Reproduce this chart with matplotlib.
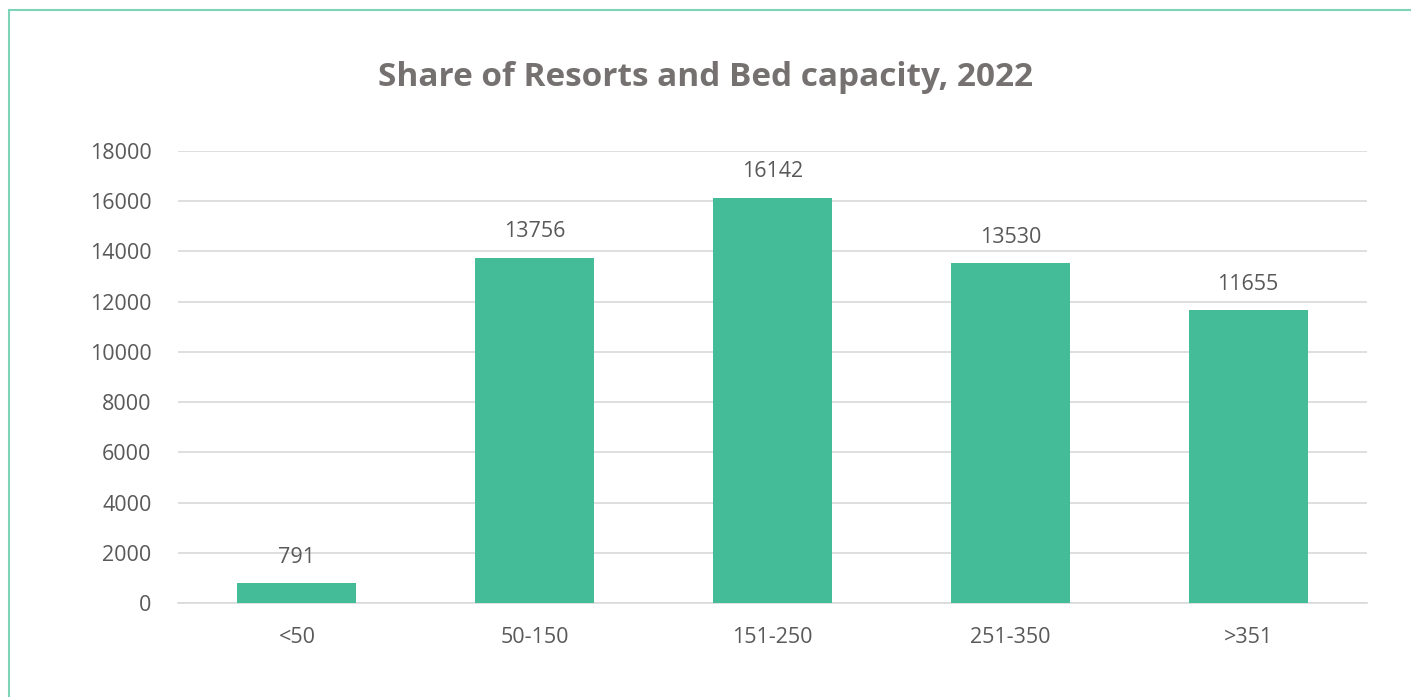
import matplotlib
matplotlib.use("Agg")
import matplotlib.pyplot as plt
from matplotlib.lines import Line2D

categories = ["<50", "50-150", "151-250", "251-350", ">351"]
values = [791, 13756, 16142, 13530, 11655]
yticks = [0, 2000, 4000, 6000, 8000, 10000, 12000, 14000, 16000, 18000]
title = "Share of Resorts and Bed capacity, 2022"

W, H = 1411, 697
fig = plt.figure(figsize=(W / 100, H / 100), dpi=100)
fig.patch.set_facecolor("white")

left, right = 178 / W, 1367 / W
bottom, top = 1 - 603 / H, 1 - 151 / H
ax = fig.add_axes([left, bottom, right - left, top - bottom])

bar_color = "#45BC98"
text_color = "#595959"
fs = 15.5

x = list(range(len(categories)))
ax.bar(x, values, width=0.5, color=bar_color, zorder=3)
ax.set_xlim(-0.5, len(categories) - 0.5)
ax.set_ylim(0, 18000)
ax.set_yticks(yticks)
ax.set_yticklabels([str(t) for t in yticks])
ax.set_xticks(x)
ax.set_xticklabels(categories)

font = "Open Sans"
for lab in ax.get_xticklabels() + ax.get_yticklabels():
    lab.set_fontfamily(font)
    lab.set_fontsize(fs)
    lab.set_color(text_color)
ax.tick_params(axis="both", length=0)
ax.tick_params(axis="y", pad=19)
ax.tick_params(axis="x", pad=17)

ax.grid(axis="y", color="#D9D9D9", linewidth=1.2, zorder=0)
for s in ["top", "right", "left"]:
    ax.spines[s].set_visible(False)
ax.spines["bottom"].set_color("#D9D9D9")
ax.spines["bottom"].set_linewidth(1.2)

for xi, v in zip(x, values):
    ax.annotate(str(v), (xi, v), xytext=(0, 11), textcoords="offset points",
                ha="center", va="bottom", fontsize=fs, color=text_color,
                fontfamily=font)

fig.text(705 / W, 1 - 78 / H, title, ha="center", va="center",
         fontsize=24, fontweight="bold", color="#767171", fontfamily="Open Sans")

border_color = "#7ED3B9"
fig.add_artist(Line2D([9 / W, 1], [1 - 10 / H, 1 - 10 / H], color=border_color,
                      linewidth=1.5, transform=fig.transFigure))
fig.add_artist(Line2D([9 / W, 9 / W], [0, 1 - 10 / H], color=border_color,
                      linewidth=1.5, transform=fig.transFigure))

fig.savefig("out.png", dpi=100)
